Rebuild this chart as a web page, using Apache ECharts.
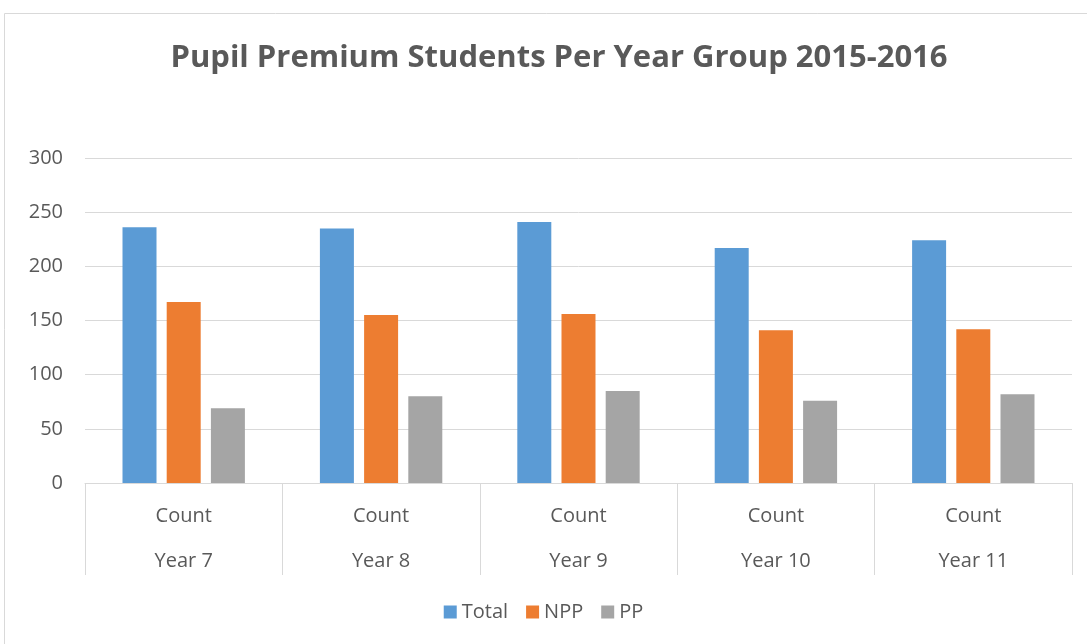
<!DOCTYPE html>
<html>
<head>
<meta charset="utf-8">
<script src="https://cdn.jsdelivr.net/npm/echarts@6/dist/echarts.min.js"></script>
<style>html,body{margin:0;padding:0;background:#fff;}#c{width:1087px;height:644px;}</style>
</head>
<body>
<div id="c"></div>
<script>
const categories = ['Year 7', 'Year 8', 'Year 9', 'Year 10', 'Year 11'];
const subLabel = 'Count';
const totalValues = [236, 235, 241, 217, 224];
const nppValues = [167, 155, 156, 141, 142];
const ppValues = [69, 80, 85, 76, 82];
const yTicks = { min: 0, max: 300, interval: 50 };

const chart = echarts.init(document.getElementById('c'), null, { renderer: 'canvas' });
const font = 'Open Sans, Liberation Sans, sans-serif';
chart.setOption({
  animation: false,
  textStyle: { fontFamily: font },
  graphic: [{
    type: 'rect', shape: { x: 4.5, y: 13.5, width: 1200, height: 800 },
    style: { fill: 'none', stroke: '#d9d9d9', lineWidth: 1 }, silent: true, z: -10
  }],
  title: {
    text: 'Pupil Premium Students Per Year Group 2015-2016',
    left: 554, top: 38, textAlign: 'center',
    textStyle: { fontFamily: font, fontSize: 31, fontWeight: 'bold', color: '#595959' }
  },
  legend: {
    data: ['Total', 'NPP', 'PP'],
    bottom: 17, left: 'center',
    itemWidth: 13, itemHeight: 13, itemGap: 18,
    icon: 'rect',
    textStyle: { fontFamily: font, fontSize: 20, color: '#595959' }
  },
  grid: { left: 85, right: 15, top: 158, bottom: 161 },
  xAxis: [{
    type: 'category', data: categories, position: 'bottom',
    axisLine: { lineStyle: { color: '#d9d9d9', width: 1 } },
    axisTick: { show: true, length: 92, alignWithLabel: false, lineStyle: { color: '#d9d9d9' } },
    axisLabel: { formatter: () => subLabel, margin: 23, fontSize: 20, color: '#595959', fontFamily: font }
  }, {
    type: 'category', data: categories, position: 'bottom',
    axisLine: { show: false }, axisTick: { show: false },
    axisLabel: { margin: 68, fontSize: 20, color: '#595959', fontFamily: font }
  }],
  yAxis: {
    type: 'value', min: yTicks.min, max: yTicks.max, interval: yTicks.interval,
    axisLine: { show: false }, axisTick: { show: false },
    splitLine: { lineStyle: { color: '#d9d9d9', width: 1 } },
    axisLabel: { margin: 22, fontSize: 20, color: '#595959', fontFamily: font }
  },
  series: [
    { name: 'Total', type: 'bar', data: totalValues, itemStyle: { color: '#5b9bd5' }, barGap: '30%', barCategoryGap: '38%' },
    { name: 'NPP', type: 'bar', data: nppValues, itemStyle: { color: '#ed7d31' } },
    { name: 'PP', type: 'bar', data: ppValues, itemStyle: { color: '#a5a5a5' } }
  ]
});
</script>
</body>
</html>
